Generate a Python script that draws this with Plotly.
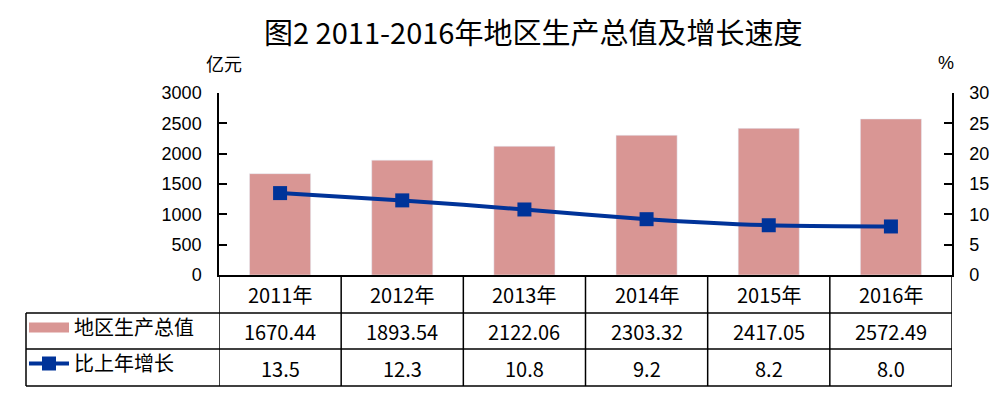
import plotly.graph_objects as go

years = ["2011年", "2012年", "2013年", "2014年", "2015年", "2016年"]
gdp = [1670.44, 1893.54, 2122.06, 2303.32, 2417.05, 2572.49]
growth = [13.5, 12.3, 10.8, 9.2, 8.2, 8.0]
gdp_labels = ["1670.44", "1893.54", "2122.06", "2303.32", "2417.05", "2572.49"]
growth_labels = ["13.5", "12.3", "10.8", "9.2", "8.2", "8.0"]
name_gdp = "地区生产总值"
name_growth = "比上年增长"
title = "图2 2011-2016年地区生产总值及增长速度"

PINK = "#D99694"
BLUE = "#003399"
CJK = "Noto Sans CJK SC"
LAT = "Liberation Sans, Arial, sans-serif"

W, H = 996, 395
L, R, T, B = 219, 952, 93, 275
pw, ph = R - L, B - T


def py(pix):
    return (B - pix) / ph


def px(pix):
    return (pix - L) / pw


fig = go.Figure()
fig.add_trace(go.Bar(x=years, y=gdp, marker_color=PINK, showlegend=False,
                     name=name_gdp))
# legend entry for the bars (wide swatch as in the reference)
fig.add_trace(go.Scatter(x=[None], y=[None], mode="lines", name=name_gdp,
                         line=dict(color=PINK, width=10), legendgroup="a"))
fig.add_trace(go.Scatter(x=years, y=growth, yaxis="y2", mode="lines+markers",
                         name=name_growth, legendgroup="b",
                         line=dict(color=BLUE, width=4, shape="spline", smoothing=0.6),
                         marker=dict(symbol="square", size=14, color=BLUE)))

row_lines = [py(313), py(349), py(386)]
shapes = []
for yy in row_lines:
    shapes.append(dict(type="line", xref="paper", yref="paper", x0=px(26), x1=1,
                       y0=yy, y1=yy, line=dict(color="black", width=1.5)))
for i in range(len(years) + 1):
    shapes.append(dict(type="line", xref="x", yref="paper", x0=i - 0.5, x1=i - 0.5,
                       y0=0, y1=row_lines[-1], line=dict(color="black", width=1.5)))
shapes.append(dict(type="line", xref="paper", yref="paper", x0=px(26), x1=px(26),
                   y0=row_lines[0], y1=row_lines[-1], line=dict(color="black", width=1.5)))

TF = dict(family=CJK, size=20, color="black")
ann = []
for i, yr in enumerate(years):
    for yy, txt in ((294, yr), (331, gdp_labels[i]), (368, growth_labels[i])):
        ann.append(dict(x=yr, xref="x", y=py(yy), yref="paper", text=txt,
                        showarrow=False, xanchor="center", yanchor="middle", font=TF))
ann.append(dict(x=px(224), xref="paper", y=py(63), yref="paper", text="亿元",
                showarrow=False, xanchor="center", yanchor="middle",
                font=dict(family=CJK, size=18, color="black")))
ann.append(dict(x=px(946), xref="paper", y=py(63), yref="paper", text="%",
                showarrow=False, xanchor="center", yanchor="middle",
                font=dict(family=LAT, size=18, color="black")))
ann.append(dict(x=px(533), xref="paper", y=py(31), yref="paper", text=title,
                showarrow=False, xanchor="center", yanchor="middle",
                font=dict(family=CJK, size=29, color="black")))

fig.update_layout(
    width=W, height=H,
    margin=dict(l=L, r=W - R, t=T, b=H - B, autoexpand=False),
    paper_bgcolor="white", plot_bgcolor="white",
    bargap=0.5,
    xaxis=dict(type="category", showticklabels=False, ticks="", showline=True,
               linecolor="black", linewidth=1.5, showgrid=False, range=[-0.5, 5.5]),
    yaxis=dict(range=[0, 3000], dtick=500, showgrid=False, zeroline=False,
               showline=True, linecolor="black", linewidth=1.5,
               ticks="inside", ticklen=8, tickcolor="black", tickwidth=1.5,
               ticklabelstandoff=12,
               tickfont=dict(family=LAT, size=18, color="black")),
    yaxis2=dict(range=[0, 30], dtick=5, overlaying="y", side="right", showgrid=False,
                zeroline=False, showline=True, linecolor="black", linewidth=1.5,
                ticks="inside", ticklen=8, tickcolor="black", tickwidth=1.5,
                ticklabelstandoff=12,
                tickfont=dict(family=LAT, size=18, color="black")),
    legend=dict(x=px(24), xanchor="left", y=py(308), yanchor="top",
                traceorder="grouped", tracegroupgap=7, itemwidth=40,
                bgcolor="rgba(0,0,0,0)",
                font=dict(family=CJK, size=20, color="black")),
    shapes=shapes,
    annotations=ann,
)

fig.write_html("out.html", config={"displayModeBar": False},
               post_script="document.body.style.margin='0';")
